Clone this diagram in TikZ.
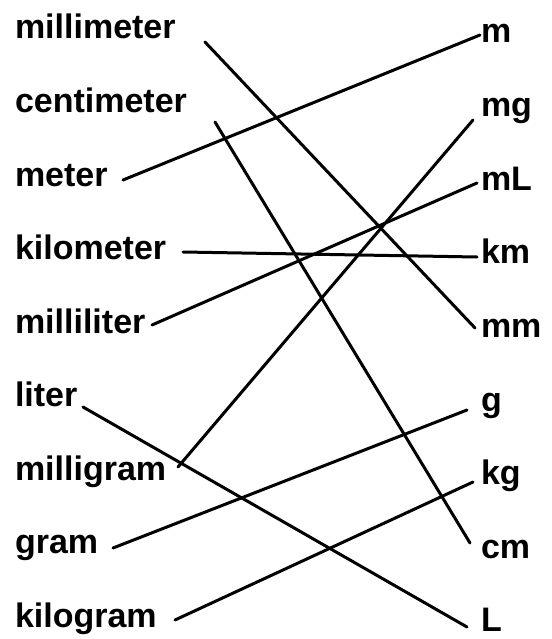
\documentclass[tikz,border=0pt]{standalone}
\usepackage{fontspec}
\setmainfont{Liberation Sans}
\begin{document}
\begin{tikzpicture}[x=1pt,y=-1pt,
  lbl/.style={anchor=base west,inner sep=0pt,outer sep=0pt,font=\fontsize{34}{34}\selectfont\bfseries},
  link/.style={line width=3pt,line cap=round}]
\useasboundingbox (0,0) rectangle (551,639);
% left labels
\node[lbl] (millimeter) at (15,39) {millimeter};
\node[lbl] (centimeter) at (15,112.5) {centimeter};
\node[lbl] (meter) at (15,186) {meter};
\node[lbl] (kilometer) at (15,259.5) {kilometer};
\node[lbl] (milliliter) at (15,333) {milliliter};
\node[lbl] (liter) at (15,406.5) {liter};
\node[lbl] (milligram) at (15,480) {milligram};
\node[lbl] (gram) at (15,553.5) {gram};
\node[lbl] (kilogram) at (15,627) {kilogram};
% right labels
\node[lbl] (m) at (481,43) {m};
\node[lbl] (mg) at (481,116.6) {mg};
\node[lbl] (mL) at (481,190.2) {mL};
\node[lbl] (km) at (481,263.8) {km};
\node[lbl] (mm) at (481,337.4) {mm};
\node[lbl] (g) at (481,411) {g};
\node[lbl] (kg) at (481,484.6) {kg};
\node[lbl] (cm) at (481,558.2) {cm};
\node[lbl] (L) at (481,631.8) {L};
% connector ends
\coordinate (a1) at (205,42);  \coordinate (b1) at (475,328);
\coordinate (a2) at (215,122); \coordinate (b2) at (470,543);
\coordinate (a3) at (123,180); \coordinate (b3) at (480,35);
\coordinate (a4) at (183,252); \coordinate (b4) at (477,257);
\coordinate (a5) at (152,325); \coordinate (b5) at (477,183);
\coordinate (a6) at (83,407);  \coordinate (b6) at (467,627);
\coordinate (a7) at (178,467); \coordinate (b7) at (473,120);
\coordinate (a8) at (113,548); \coordinate (b8) at (467,410);
\coordinate (a9) at (175,620); \coordinate (b9) at (473,482);
\foreach \i in {1,...,9} {\draw[link] (a\i) -- (b\i);}
\end{tikzpicture}
\end{document}
